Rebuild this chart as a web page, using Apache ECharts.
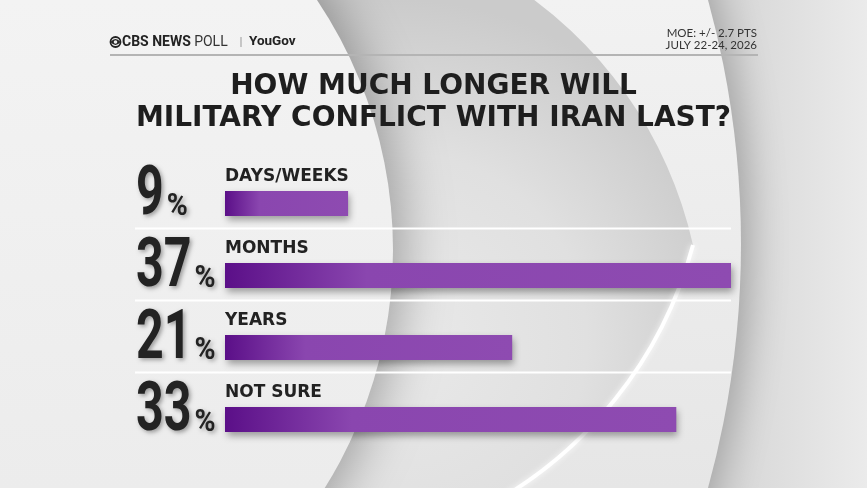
<!DOCTYPE html>
<html>
<head>
<meta charset="utf-8">
<script src="https://cdn.jsdelivr.net/npm/echarts@6/dist/echarts.min.js"></script>
<style>html,body{margin:0;padding:0;background:#e8e8e8;}#c{width:867px;height:488px;}</style>
</head>
<body>
<div id="c"></div>
<script>
// ---- data ----
const categories = ['DAYS/WEEKS', 'MONTHS', 'YEARS', 'NOT SURE'];
const values = [9, 37, 21, 33];
const titleLines = ['HOW MUCH LONGER WILL', 'MILITARY CONFLICT WITH IRAN LAST?'];
const moeLines = ['MOE: +/- 2.7 PTS', 'JULY 22-24, 2026'];

// ---- layout ----
const W = 867, H = 488;
const gridLeft = 225, gridRight = 136, gridTop = 167.5, gridHeight = 288;
const band = gridHeight / categories.length;
const NUM_FONT = 'bold 69px Roboto';
const PCT_FONT = 'bold 31px Roboto';
const NUM_SX = 0.7, PCT_SX = 0.92;

const measureCtx = document.createElement('canvas').getContext('2d');
function textWidth(t, font) { measureCtx.font = font; return measureCtx.measureText(t).width; }

// decorative background shapes
echarts.graphic.registerShape('bgAlmond', echarts.graphic.extendPath(
  'M 693 245 A 420 420 0 0 0 505 -20 L -100 -20 L -100 510 L 480 510 A 420 420 0 0 0 693 245 Z', {}));
echarts.graphic.registerShape('bgHighlight', echarts.graphic.extendPath(
  'M 480 510 A 420 420 0 0 0 693 245', {}));
echarts.graphic.registerShape('cbsLens', echarts.graphic.extendPath(
  'M 110.5 42 Q 115.5 36 120.5 42 Q 115.5 48 110.5 42 Z', {}));

const chart = echarts.init(document.getElementById('c'), null, {renderer: 'canvas'});

const barGradient = new echarts.graphic.LinearGradient(0, 0, 1, 0, [
  {offset: 0, color: '#5b0f88'},
  {offset: 0.28, color: '#8a46af'},
  {offset: 1, color: '#8e4bb1'}
]);

const graphics = [];
graphics.push({
  type: 'rect', z: -100, silent: true,
  shape: {x: 0, y: 0, width: W, height: H},
  style: {fill: {type: 'linear', x: 740, y: 0, x2: 867, y2: 0, global: true,
    colorStops: [{offset: 0, color: '#d8d8d8'}, {offset: 1, color: '#ebebeb'}]}}
});
graphics.push({
  type: 'circle', z: -99, silent: true,
  shape: {cx: -178, cy: 244, r: 919},
  style: {fill: {type: 'linear', x: 0, y: 0, x2: 0, y2: 488, global: true,
    colorStops: [{offset: 0, color: '#f2f2f2'}, {offset: 1, color: '#e6e6e6'}]},
    shadowBlur: 40, shadowColor: 'rgba(0,0,0,0.28)', shadowOffsetX: 6}
});
graphics.push({
  type: 'bgAlmond', z: -98, silent: true,
  style: {fill: {type: 'radial', x: 400, y: 340, r: 340, global: true,
    colorStops: [{offset: 0, color: '#e9e9e9'}, {offset: 0.55, color: '#e0e0e0'}, {offset: 1, color: '#cbcbcb'}]}}
});
graphics.push({
  type: 'bgHighlight', z: -97, silent: true,
  style: {fill: 'none', stroke: '#ffffff', lineWidth: 4, shadowBlur: 6, shadowColor: 'rgba(255,255,255,0.9)'}
});
graphics.push({
  type: 'circle', z: -96, silent: true,
  shape: {cx: -56, cy: 250, r: 449},
  style: {fill: {type: 'linear', x: 0, y: 0, x2: 0, y2: 488, global: true,
    colorStops: [{offset: 0, color: '#f3f3f3'}, {offset: 1, color: '#ececec'}]},
    shadowBlur: 50, shadowColor: 'rgba(0,0,0,0.3)', shadowOffsetX: 10}
});
for (let k = 1; k < categories.length; k++) {
  const y = gridTop + band * k - 11;
  graphics.push({type: 'line', z: -50, silent: true,
    shape: {x1: 135, y1: y, x2: W - gridRight, y2: y},
    style: {stroke: '#ffffff', lineWidth: 2}});
}
graphics.push({type: 'line', z: 10, silent: true,
  shape: {x1: 110, y1: 55, x2: 758, y2: 55},
  style: {stroke: '#b4b4b4', lineWidth: 2}});
graphics.push({type: 'circle', z: 10, silent: true,
  shape: {cx: 115.5, cy: 42, r: 5}, style: {fill: 'none', stroke: '#222', lineWidth: 1.8}});
graphics.push({type: 'cbsLens', z: 10, silent: true, style: {fill: '#222'}});
graphics.push({type: 'circle', z: 11, silent: true,
  shape: {cx: 115.5, cy: 42, r: 1.8}, style: {fill: '#eeeeee'}});
graphics.push({type: 'text', z: 10, silent: true, x: 122, y: 42,
  style: {text: '{b|CBS NEWS} {l|POLL}', verticalAlign: 'middle',
    rich: {b: {fontFamily: 'Roboto', fontWeight: 'bold', fontSize: 14, fill: '#222'},
           l: {fontFamily: 'Roboto', fontWeight: 'normal', fontSize: 14, fill: '#333'}}}});
graphics.push({type: 'line', z: 10, silent: true,
  shape: {x1: 241, y1: 37, x2: 241, y2: 47}, style: {stroke: '#999', lineWidth: 1}});
graphics.push({type: 'text', z: 10, silent: true, x: 249, y: 42,
  style: {text: 'YouGov', verticalAlign: 'middle', fontFamily: 'Roboto', fontWeight: 'bold', fontSize: 13.5, fill: '#222'}});
graphics.push({type: 'text', z: 10, silent: true, x: 757, y: 33,
  style: {text: moeLines[0], align: 'right', verticalAlign: 'middle', fontFamily: 'Lato', fontSize: 11.5, fill: '#333'}});
graphics.push({type: 'text', z: 10, silent: true, x: 757, y: 45,
  style: {text: moeLines[1], align: 'right', verticalAlign: 'middle', fontFamily: 'Lato', fontSize: 11.5, fill: '#333'}});

function renderPercent(params, api) {
  const idx = api.value(1);
  const p = api.coord([0, idx]);
  const txt = String(api.value(0));
  const x0 = p[0] - 89;
  const baseY = p[1] + 13.5;
  const numW = textWidth(txt, NUM_FONT) * NUM_SX;
  const shadow = {textShadowColor: 'rgba(0,0,0,0.35)', textShadowBlur: 4, textShadowOffsetX: 2, textShadowOffsetY: 2};
  return {
    type: 'group',
    children: [
      {type: 'text', x: x0, y: baseY - 0.30 * 69, scaleX: NUM_SX, originX: 0,
       style: Object.assign({text: txt, font: NUM_FONT, fill: '#232323', align: 'left', verticalAlign: 'middle'}, shadow)},
      {type: 'text', x: x0 + numW + 3, y: baseY - 0.30 * 31, scaleX: PCT_SX, originX: 0,
       style: Object.assign({text: '%', font: PCT_FONT, fill: '#232323', align: 'left', verticalAlign: 'middle'}, shadow)}
    ]
  };
}

const option = {
  animation: false,
  backgroundColor: '#e8e8e8',
  title: {
    text: titleLines.join('\n'),
    left: 'center', top: 66,
    textStyle: {fontFamily: 'DejaVu Sans', fontWeight: 'bold', fontSize: 28, lineHeight: 32, color: '#1e1e1e'}
  },
  grid: {left: gridLeft, right: gridRight, top: gridTop, height: gridHeight},
  xAxis: {type: 'value', min: 0, max: 37, show: false},
  yAxis: {
    type: 'category', data: categories, inverse: true,
    axisLine: {show: false}, axisTick: {show: false}, splitLine: {show: false}, axisLabel: {show: false}
  },
  series: [{
    type: 'bar', data: values, barWidth: 25,
    itemStyle: {color: barGradient, shadowBlur: 7, shadowOffsetX: 2, shadowOffsetY: 4, shadowColor: 'rgba(0,0,0,0.35)'},
    label: {show: true, position: [0, -6], align: 'left', verticalAlign: 'bottom', formatter: '{b}',
      fontFamily: 'DejaVu Sans', fontWeight: 'bold', fontSize: 17, color: '#222'}
  }, {
    type: 'custom', silent: true, z: 5,
    data: values.map((v, i) => [v, i]),
    encode: {x: 0, y: 1},
    renderItem: renderPercent
  }],
  graphic: graphics
};
chart.setOption(option);
</script>
</body>
</html>
